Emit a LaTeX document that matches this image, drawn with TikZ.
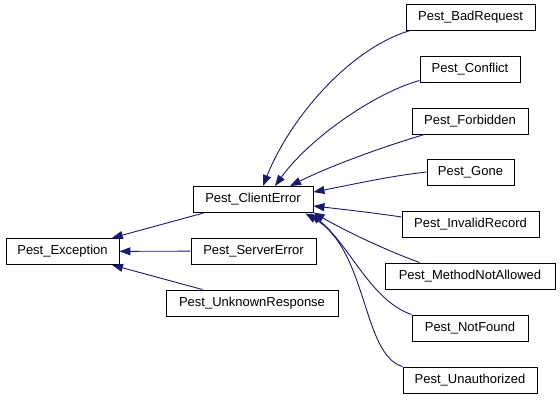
\documentclass[tikz,border=0pt]{standalone}
\usepackage{fontspec}
\setmainfont{Liberation Sans}
\usetikzlibrary{arrows.meta,calc}
\definecolor{edgec}{HTML}{191970}
\tikzset{
  cls/.style={draw=black, line width=0.9pt, fill=white, inner sep=0pt, minimum height=26pt, font=\fontsize{13}{15}\selectfont},
  edge/.style={draw=edgec, line width=0.9pt, -{Triangle[length=11pt,width=8pt]}}
}
\begin{document}
\begin{tikzpicture}[x=1pt,y=-1pt]
\useasboundingbox (0,0) rectangle (560,401);
\node[cls, minimum width=113pt] (ex) at (62.5,251.5) {Pest\_Exception};
\node[cls, minimum width=120pt] (ce) at (253,199.5) {Pest\_ClientError};
\node[cls, minimum width=125pt] (se) at (253.5,251) {Pest\_ServerError};
\node[cls, minimum width=172pt] (ur) at (252,303) {Pest\_UnknownResponse};
\node[cls, minimum width=129pt] (bad) at (470.5,17) {Pest\_BadRequest};
\node[cls, minimum width=100pt] (con) at (470,69) {Pest\_Conflict};
\node[cls, minimum width=116pt] (forb) at (470,121) {Pest\_Forbidden};
\node[cls, minimum width=87pt] (gone) at (470.5,172.5) {Pest\_Gone};
\node[cls, minimum width=137pt] (inv) at (470.5,224) {Pest\_InvalidRecord};
\node[cls, minimum width=170pt] (meth) at (470,276) {Pest\_MethodNotAllowed};
\node[cls, minimum width=116pt] (nf) at (470,328) {Pest\_NotFound};
\node[cls, minimum width=134pt] (un) at (470,380) {Pest\_Unauthorized};

\draw[edge] (ce) -- (ex);
\draw[edge] (se) -- (ex);
\draw[edge] (ur) -- (ex);

\draw[edge] ($(bad.south west)+(5,0)$) .. controls (350,48) and (290,118) .. ($(ce.north)+(10,0)$);
\draw[edge] ($(con.south west)+(0,-2)$) .. controls (372,94) and (308,140) .. ($(ce.north)+(22,0)$);
\draw[edge] ($(forb.south west)+(13,0)$) .. controls (385,146) and (330,166) .. ($(ce.north)+(37,0)$);
\draw[edge] ($(gone.west)+(0,-0.5)$) .. controls (390,176) and (350,185) .. ($(ce.north east)+(0,6)$);
\draw[edge] ($(inv.west)+(0,-7)$) .. controls (375,213) and (340,209) .. ($(ce.east)+(0,6.5)$);
\draw[edge] ($(meth.north west)+(35,0)$) .. controls (380,248) and (340,228) .. ($(ce.south east)+(0,-0.5)$);
\draw[edge] (nf.north west) .. controls (370,300) and (350,245) .. ($(ce.south east)+(-3,0.5)$);
\draw[edge] (un.north west) .. controls (362,355) and (368,250) .. ($(ce.south east)+(-8,0.5)$);
\end{tikzpicture}
\end{document}
